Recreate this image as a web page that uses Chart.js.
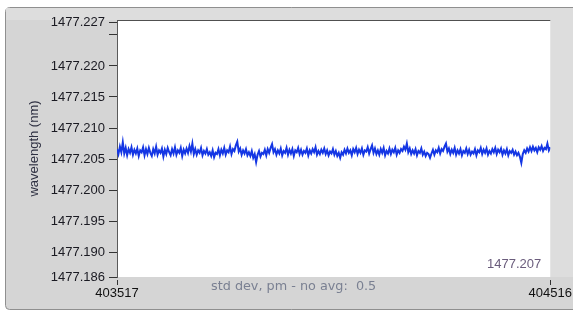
<!DOCTYPE html>
<html>
<head>
<meta charset="utf-8">
<script src="https://cdn.jsdelivr.net/npm/chart.js@4.4.1/dist/chart.umd.min.js"></script>
<style>
  html, body { margin: 0; padding: 0; background: #fff; }
  #wrap { width: 573px; height: 314px; }
</style>
</head>
<body>
<div id="wrap"><canvas id="wl" width="573" height="314"></canvas></div>
<script>
// sample range on the x axis
var sampleStart = 403517;
var sampleEnd = 404516;

// y axis range and tick marks (1477.225 is an unlabelled tick)
var yMin = 1477.186;
var yMax = 1477.2274;
var yTicks = [1477.186, 1477.190, 1477.195, 1477.200, 1477.205, 1477.210, 1477.215, 1477.220, 1477.225, 1477.227];
var xTicks = [403517, 404516];

// readout values shown on the panel
var lastReading = '1477.207';
var stdDevLabel = 'std dev, pm - no avg:  0.5';

// wavelength trace (nm)
var wavelength = [
  1477.2066, 1477.2058, 1477.2070, 1477.2061, 1477.2077, 1477.2059, 1477.2068, 1477.2056, 1477.2066, 1477.2060, 1477.2069, 1477.2057,
  1477.2065, 1477.2059, 1477.2067, 1477.2055, 1477.2064, 1477.2061, 1477.2069, 1477.2056, 1477.2066, 1477.2058, 1477.2068, 1477.2060,
  1477.2055, 1477.2066, 1477.2059, 1477.2070, 1477.2057, 1477.2064, 1477.2060, 1477.2067, 1477.2054, 1477.2065, 1477.2058, 1477.2068,
  1477.2061, 1477.2056, 1477.2066, 1477.2059, 1477.2069, 1477.2057, 1477.2064, 1477.2060, 1477.2068, 1477.2055, 1477.2065, 1477.2059,
  1477.2067, 1477.2060, 1477.2071, 1477.2062, 1477.2075, 1477.2058, 1477.2066, 1477.2057, 1477.2064, 1477.2060, 1477.2068, 1477.2056,
  1477.2063, 1477.2059, 1477.2066, 1477.2057, 1477.2061, 1477.2055, 1477.2064, 1477.2053, 1477.2060, 1477.2058, 1477.2066, 1477.2056,
  1477.2065, 1477.2059, 1477.2068, 1477.2057, 1477.2064, 1477.2061, 1477.2070, 1477.2058, 1477.2066, 1477.2063, 1477.2072, 1477.2078,
  1477.2062, 1477.2067, 1477.2057, 1477.2064, 1477.2059, 1477.2066, 1477.2056, 1477.2061, 1477.2055, 1477.2063, 1477.2052, 1477.2058,
  1477.2045, 1477.2057, 1477.2063, 1477.2054, 1477.2060, 1477.2058, 1477.2065, 1477.2056, 1477.2066, 1477.2060, 1477.2068, 1477.2074,
  1477.2061, 1477.2066, 1477.2057, 1477.2064, 1477.2059, 1477.2067, 1477.2056, 1477.2063, 1477.2060, 1477.2068, 1477.2057, 1477.2065,
  1477.2059, 1477.2066, 1477.2055, 1477.2064, 1477.2061, 1477.2068, 1477.2058, 1477.2065, 1477.2057, 1477.2063, 1477.2060, 1477.2067,
  1477.2056, 1477.2064, 1477.2059, 1477.2066, 1477.2061, 1477.2069, 1477.2057, 1477.2063, 1477.2058, 1477.2065, 1477.2060, 1477.2067,
  1477.2058, 1477.2064, 1477.2056, 1477.2062, 1477.2059, 1477.2066, 1477.2057, 1477.2063, 1477.2055, 1477.2060, 1477.2052, 1477.2061,
  1477.2057, 1477.2065, 1477.2059, 1477.2067, 1477.2060, 1477.2064, 1477.2056, 1477.2066, 1477.2061, 1477.2068, 1477.2058, 1477.2065,
  1477.2060, 1477.2067, 1477.2057, 1477.2064, 1477.2062, 1477.2069, 1477.2059, 1477.2066, 1477.2072, 1477.2060, 1477.2067, 1477.2058,
  1477.2064, 1477.2057, 1477.2066, 1477.2060, 1477.2068, 1477.2056, 1477.2063, 1477.2059, 1477.2067, 1477.2058, 1477.2065, 1477.2061,
  1477.2068, 1477.2057, 1477.2064, 1477.2060, 1477.2066, 1477.2063, 1477.2070, 1477.2065, 1477.2075, 1477.2061, 1477.2067, 1477.2058,
  1477.2064, 1477.2059, 1477.2066, 1477.2056, 1477.2063, 1477.2060, 1477.2067, 1477.2057, 1477.2062, 1477.2055, 1477.2060, 1477.2058,
  1477.2052, 1477.2059, 1477.2065, 1477.2057, 1477.2064, 1477.2061, 1477.2068, 1477.2059, 1477.2066, 1477.2063, 1477.2070, 1477.2075,
  1477.2062, 1477.2067, 1477.2058, 1477.2065, 1477.2060, 1477.2068, 1477.2057, 1477.2064, 1477.2059, 1477.2066, 1477.2056, 1477.2063,
  1477.2060, 1477.2067, 1477.2058, 1477.2065, 1477.2057, 1477.2062, 1477.2059, 1477.2066, 1477.2056, 1477.2064, 1477.2061, 1477.2068,
  1477.2058, 1477.2065, 1477.2060, 1477.2067, 1477.2057, 1477.2063, 1477.2059, 1477.2066, 1477.2061, 1477.2068, 1477.2058, 1477.2065,
  1477.2061, 1477.2067, 1477.2057, 1477.2064, 1477.2059, 1477.2066, 1477.2056, 1477.2063, 1477.2060, 1477.2065, 1477.2057, 1477.2062,
  1477.2056, 1477.2060, 1477.2054, 1477.2044, 1477.2058, 1477.2064, 1477.2060, 1477.2067, 1477.2062, 1477.2069, 1477.2063, 1477.2070,
  1477.2064, 1477.2068, 1477.2061, 1477.2069, 1477.2065, 1477.2071, 1477.2063, 1477.2068, 1477.2066, 1477.2075, 1477.2064, 1477.2069
];

// samples are evenly spaced over the x range
var points = wavelength.map(function (v, i) {
  return { x: sampleStart + i * (sampleEnd - sampleStart) / (wavelength.length - 1), y: v };
});

var FONT = "'Liberation Sans', Arial, sans-serif";

// panel look (grey frame, white plot area, readouts)
var panelPlugin = {
  id: 'panel',
  beforeDraw: function (chart) {
    var c = chart.ctx, a = chart.chartArea;
    c.save();
    c.fillStyle = '#ffffff';
    c.fillRect(0, 0, chart.width, chart.height);
    // outer frame
    c.beginPath();
    c.roundRect(5.5, 7.5, 600, 302, 4);
    c.fillStyle = '#d5d5d5';
    c.fill();
    c.strokeStyle = '#8f8f8f';
    c.lineWidth = 1;
    c.stroke();
    // lighter strips top and right
    c.fillStyle = '#dddddd';
    c.fillRect(6, 8, chart.width - 6, a.top - 8);
    c.fillRect(a.right, 8, chart.width - a.right, a.bottom - 8);
    // plot area
    c.fillStyle = '#ffffff';
    c.fillRect(a.left, a.top, a.right - a.left, a.bottom - a.top);
    c.restore();
  },
  afterDraw: function (chart) {
    var c = chart.ctx, a = chart.chartArea;
    c.save();
    c.strokeStyle = '#505050';
    c.lineWidth = 1;
    c.beginPath();
    c.moveTo(a.left, a.top + 0.5);
    c.lineTo(a.right, a.top + 0.5);
    c.stroke();
    c.font = '13px ' + FONT;
    c.textBaseline = 'alphabetic';
    c.textAlign = 'right';
    c.fillStyle = '#6a5c7c';
    c.fillText(lastReading, a.right - 9, a.bottom - 9);
    c.textAlign = 'left';
    c.fillStyle = '#7a8092';
    c.font = "12.8px 'DejaVu Sans', sans-serif";
    c.fillText(stdDevLabel, 211, 290);
    c.restore();
  }
};

var ctx = document.getElementById('wl');
var wlChart = new Chart(ctx, {
  type: 'line',
  data: {
    datasets: [{
      data: points,
      borderColor: '#1436e4',
      borderWidth: 2,
      pointRadius: 0,
      tension: 0,
      fill: false
    }]
  },
  options: {
    responsive: false,
    animation: false,
    events: [],
    layout: {
      padding: { left: 0, top: 20, right: 22, bottom: 0 }
    },
    plugins: {
      legend: { display: false },
      tooltip: { enabled: false }
    },
    scales: {
      x: {
        type: 'linear',
        min: sampleStart,
        max: sampleEnd,
        afterBuildTicks: function (scale) {
          scale.ticks = xTicks.map(function (v) { return { value: v }; });
        },
        afterFit: function (scale) { scale.height = 37; },
        grid: {
          drawOnChartArea: false,
          tickLength: 8,
          tickColor: '#333333',
          tickBorderDash: [0, 3, 5]
        },
        border: { display: false },
        ticks: {
          autoSkip: false,
          maxRotation: 0,
          padding: 1,
          color: '#111111',
          font: { family: FONT, size: 13 },
          callback: function (v) { return String(v); }
        }
      },
      y: {
        min: yMin,
        max: yMax,
        afterBuildTicks: function (scale) {
          scale.ticks = yTicks.map(function (v) { return { value: v }; });
        },
        afterFit: function (scale) { scale.width = 117; },
        grid: {
          drawOnChartArea: false,
          tickLength: 8,
          tickColor: '#333333'
        },
        border: { display: true, color: '#5a5a5a', width: 1 },
        title: {
          display: true,
          text: 'wavelength (nm)',
          color: '#2e3042',
          font: { family: FONT, size: 13 },
          padding: { top: 27, bottom: 0 }
        },
        ticks: {
          autoSkip: false,
          padding: 4,
          color: '#1a1a22',
          font: { family: FONT, size: 13 },
          callback: function (v) {
            if (Math.abs(v - 1477.225) < 1e-7) return '';
            return v.toFixed(3);
          }
        }
      }
    }
  },
  plugins: [panelPlugin]
});
</script>
</body>
</html>
